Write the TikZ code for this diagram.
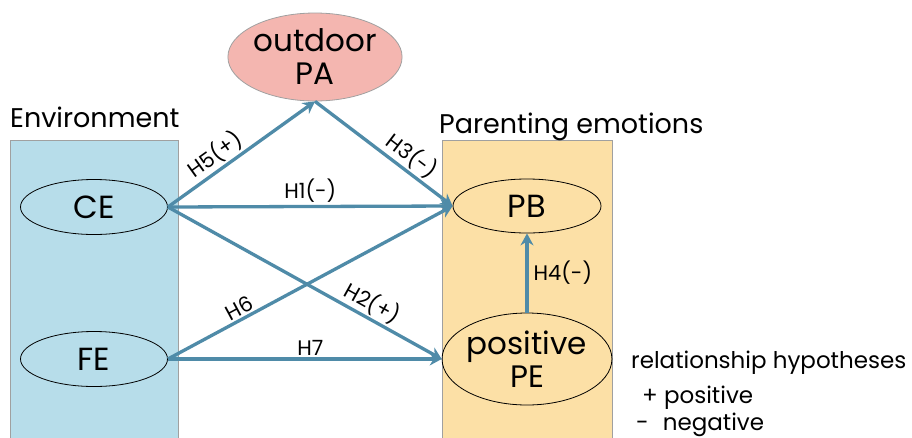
\documentclass[tikz,border=0pt]{standalone}
\usepackage{fontspec}
\setmainfont{Poppins}
\usetikzlibrary{shapes.geometric,arrows.meta}
\definecolor{envblue}{HTML}{B7DDEA}
\definecolor{parorange}{HTML}{FCE0A6}
\definecolor{papink}{HTML}{F4B6B0}
\definecolor{arrblue}{HTML}{4F8BA8}
\definecolor{boxgray}{HTML}{A0A0A0}
\tikzset{
  var/.style={ellipse, draw=black, line width=0.8pt, inner sep=0pt, font=\fontsize{32}{32}\selectfont},
  grp/.style={draw=boxgray, line width=1pt},
  hyp/.style={draw=arrblue, line width=3.3pt, -{Stealth[length=12pt,width=13pt,inset=4pt]}},
  lab/.style={font=\fontsize{21}{21}\selectfont, inner sep=2pt},
  ttl/.style={font=\fontsize{27}{27}\selectfont, anchor=base west, inner sep=0pt},
  leg/.style={font=\fontsize{23}{23}\selectfont, anchor=base west, inner sep=0pt}
}
\begin{document}
\begin{tikzpicture}[x=1pt,y=-1pt]
\useasboundingbox (0,0) rectangle (912,437);
\fill[white] (0,0) rectangle (912,437);
\filldraw[grp, fill=envblue] (10,440) -- (10,140) -- (178,140) -- (178,440);
\filldraw[grp, fill=parorange] (442,440) -- (442,140) -- (612,140) -- (612,440);
\node[ttl] (tenv) at (10,127) {Environment};
\node[ttl] (tpar) at (439,133) {Parenting emotions};
\node[var, minimum width=147pt, minimum height=55pt] (CE) at (94,207) {CE};
\node[var, minimum width=147pt, minimum height=55pt] (FE) at (94,359) {FE};
\node[var, minimum width=148pt, minimum height=54pt] (PB) at (527,206) {PB};
\node[var, minimum width=148pt, minimum height=92pt, align=center, font=\fontsize{31}{33}\selectfont] (PE) at (527,359) {positive\\PE};
\node[var, draw=boxgray, fill=papink, minimum width=170pt, minimum height=88pt, align=center, font=\fontsize{31}{33}\selectfont] (PA) at (315,57) {outdoor\\PA};
\draw[hyp] (CE.east) -- node[lab, sloped, above, pos=0.38] {H5(+)} (PA.south);
\draw[hyp] (PA.south) -- node[lab, sloped, above, pos=0.64] {H3(-)} (PB.west);
\draw[hyp] (CE.east) -- node[lab, above, pos=0.5] {H1(-)} (PB.west);
\draw[hyp] (CE.east) -- node[lab, sloped, above, pos=0.72] {H2(+)} (PE.west);
\draw[hyp] (FE.east) -- node[lab, sloped, above, pos=0.27] {H6} (PB.west);
\draw[hyp] (FE.east) -- node[lab, above, pos=0.52] {H7} (PE.west);
\draw[hyp] (PE.north) -- node[lab, right, xshift=3pt] {H4(-)} (PB.south);
\node[leg] (l1) at (631,368) {relationship hypotheses};
\node[leg] (l2) at (642,403) {+ positive};
\node[leg] (l3) at (636,430) {-\hspace{14pt}negative};
\end{tikzpicture}
\end{document}
